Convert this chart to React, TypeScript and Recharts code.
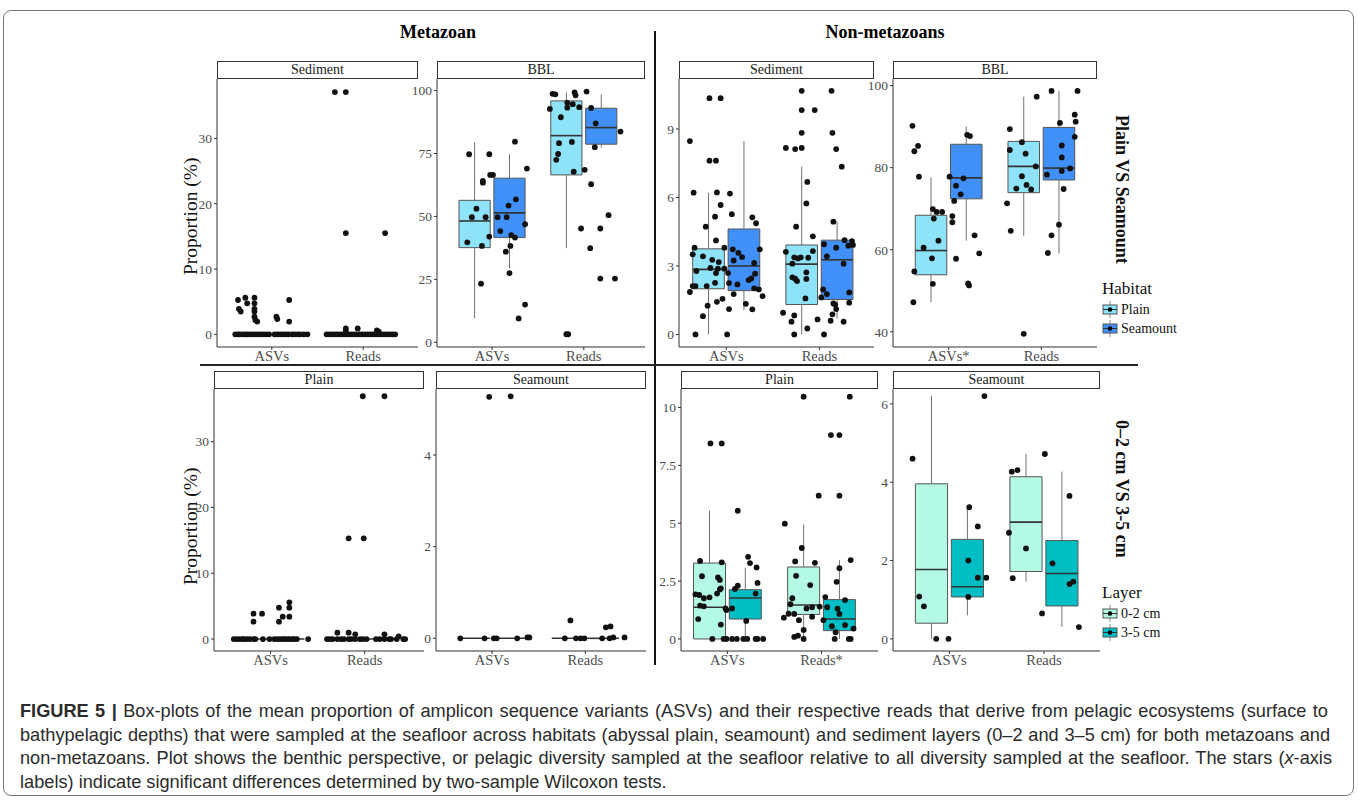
import React from 'react'
import { ComposedChart, XAxis, YAxis, Scatter, ReferenceArea, ReferenceLine } from 'recharts'

const serif = '"Liberation Serif", "Times New Roman", serif'
const sans = '"Liberation Sans", Arial, sans-serif'

const habitatLevels = ['Plain', 'Seamount']
const layerLevels = ['0-2 cm', '3-5 cm']
const habitatColors = ['#8fe3f8', '#4190f7']
const layerColors = ['#b4f8e6', '#00bec4']

// box stats: [lower whisker, q1, median, q3, upper whisker]
// order: ASVs-level1, ASVs-level2, Reads-level1, Reads-level2
const metSedimentBoxes = [[0, 0, 0, 0, 0], [0, 0, 0, 0, 0], [0, 0, 0, 0, 0], [0, 0, 0, 0, 0]]
const metBblBoxes = [[9.5, 37.6, 48.2, 56.4, 79.5], [29.4, 41.6, 51.4, 65.2, 74.7], [37.4, 66.5, 82.1, 95.9, 99.3], [77.4, 78.7, 85.3, 93.0, 98.5]]
const nonSedimentBoxes = [[0, 2.0, 2.85, 3.75, 6.2], [1.07, 1.92, 3.0, 4.62, 8.47], [0, 1.31, 3.08, 3.92, 7.35], [0.7, 1.53, 3.27, 4.13, 4.94]]
const nonBblBoxes = [[47.2, 53.9, 59.8, 68.4, 77.6], [62.2, 72.4, 77.5, 85.7, 90.0], [63.4, 73.9, 80.3, 86.4, 97.3], [59.1, 77.0, 79.9, 89.8, 98.7]]
const metPlainBoxes = [[0, 0, 0, 0, 0], [0, 0, 0, 0, 0], [0, 0, 0, 0, 0], [0, 0, 0, 0, 0]]
const metSeamountBoxes = [[0, 0, 0, 0, 0], [0, 0, 0, 0, 0], [0, 0, 0, 0, 0], [0, 0, 0, 0, 0]]
const nonPlainBoxes = [[0, 0, 1.37, 3.28, 5.54], [0, 0.86, 1.77, 2.13, 3.08], [0, 1.06, 1.47, 3.11, 4.95], [0, 0.36, 0.86, 1.7, 3.41]]
const nonSeamountBoxes = [[0, 0.4, 1.77, 3.96, 6.2], [0.6, 1.07, 1.33, 2.54, 3.37], [1.46, 1.72, 2.98, 4.14, 4.72], [0.31, 0.84, 1.67, 2.51, 4.27]]

// points: [jitter offset from category, value]
const metSedimentAsvs = [
  [-0.40, 0], [-0.37, 0], [-0.35, 0], [-0.32, 0], [-0.29, 0], [-0.27, 0], [-0.24, 0], [-0.21, 0], [-0.18, 0], [-0.15, 0], [-0.12, 0], [-0.09, 0], [-0.06, 0], [-0.03, 0],
  [0.03, 0], [0.06, 0], [0.09, 0], [0.12, 0], [0.15, 0], [0.18, 0], [0.22, 0], [0.25, 0], [0.28, 0], [0.31, 0], [0.35, 0], [0.39, 0],
  [-0.37, 5.26], [-0.36, 3.9], [-0.34, 3.5], [-0.29, 5.6], [-0.27, 4.75], [-0.19, 5.6], [-0.19, 4.75], [-0.19, 3.9], [-0.19, 3.5], [-0.19, 2.7],
  [-0.18, 2.2], [-0.16, 1.95], [0.05, 2.7], [0.06, 2.35], [0.19, 5.26], [0.19, 1.95],
]
const metSedimentReads = [
  [-0.40, 0], [-0.37, 0], [-0.34, 0], [-0.31, 0], [-0.28, 0], [-0.25, 0], [-0.22, 0], [-0.19, 0], [-0.16, 0], [-0.13, 0], [-0.10, 0], [-0.07, 0], [-0.04, 0],
  [-0.01, 0], [0.02, 0], [0.05, 0], [0.08, 0], [0.11, 0], [0.14, 0], [0.17, 0], [0.20, 0], [0.23, 0], [0.26, 0], [0.29, 0], [0.32, 0], [0.35, 0],
  [-0.31, 37.1], [-0.19, 37.1], [-0.19, 15.5], [0.24, 15.5], [-0.19, 0.9], [-0.19, 0.5], [-0.06, 0.9], [0.15, 0.6], [0.17, 0.4],
]
const metBblAsvs = [
  [-0.25, 74.7], [-0.27, 39.7], [-0.22, 49.7], [-0.17, 53.1], [-0.12, 23.3], [-0.11, 38.3], [-0.10, 64.1], [-0.10, 63.4], [-0.07, 49.7], [-0.03, 42.0],
  [-0.03, 74.7], [-0.02, 66.5], [0.01, 66.5], [0.06, 49.7], [0.09, 44.2], [0.15, 36.0], [0.16, 49.7], [0.18, 54.3], [0.19, 27.5], [0.20, 38.3],
  [0.21, 42.6], [0.25, 41.6], [0.26, 56.8], [0.25, 79.7], [0.29, 9.5], [0.36, 15.0], [0.36, 46.9], [0.38, 69.0],
]
const metBblReads = [
  [-0.37, 92.7], [-0.34, 98.7], [-0.31, 98.5], [-0.30, 72.5], [-0.28, 74.8], [-0.27, 79.1], [-0.25, 89.4], [-0.18, 95.2], [-0.18, 93.2], [-0.19, 3.2],
  [-0.17, 3.2], [-0.13, 79.6], [-0.12, 94.6], [-0.11, 67.8], [-0.10, 99.3], [-0.09, 98.1], [-0.05, 93.4], [-0.03, 45.2], [0.01, 68.5], [0.03, 99.6],
  [0.07, 37.4], [0.08, 62.8], [0.08, 93.1], [0.12, 77.5], [0.13, 87.0], [0.18, 45.2], [0.18, 25.3], [0.27, 50.5], [0.34, 25.3], [0.40, 83.7],
]
const nonSedimentAsvs = [
  [-0.39, 8.47], [-0.18, 10.35], [-0.06, 10.35], [-0.35, 6.21], [-0.18, 7.61], [-0.11, 7.61], [-0.10, 6.22], [0.04, 6.17], [-0.06, 5.67], [0.06, 5.27],
  [-0.12, 5.16], [-0.22, 4.72], [-0.11, 4.12], [-0.34, 3.8], [-0.02, 3.8], [-0.36, 3.51], [-0.25, 3.42], [-0.15, 3.27], [0.07, 3.73], [0.13, 3.57],
  [0.17, 3.39], [0.08, 3.24], [-0.08, 3.17], [-0.17, 2.91], [-0.09, 2.88], [-0.02, 2.88], [0.02, 2.69], [-0.32, 2.78], [-0.11, 2.69], [0.30, 3.13],
  [0.31, 2.66], [0.24, 2.38], [0.27, 2.45], [0.03, 2.25], [0.12, 2.19], [-0.36, 2.12], [-0.33, 2.12], [-0.21, 2.12], [-0.12, 2.26], [0.30, 2.02],
  [0.35, 1.97], [0.36, 3.73], [0.28, 5.13], [0.32, 4.87], [-0.39, 1.86], [0.08, 1.77], [0.39, 1.68], [-0.20, 1.26], [-0.10, 1.43], [-0.04, 1.56],
  [0.21, 1.34], [0.03, 1.11], [0.28, 1.10], [-0.25, 0.8], [-0.33, 0], [0.01, 0],
]
const nonSedimentReads = [
  [-0.19, 10.67], [0.13, 10.67], [-0.19, 9.83], [-0.05, 9.83], [-0.19, 8.83], [0.14, 8.83], [-0.36, 8.17], [-0.26, 8.12], [-0.19, 8.17], [0.18, 8.12],
  [0.24, 7.35], [-0.13, 6.68], [-0.14, 5.74], [0.15, 4.94], [-0.25, 4.72], [-0.07, 4.30], [0.27, 4.13], [0.35, 4.09], [0.36, 3.92], [0.31, 3.89],
  [0.05, 3.95], [0.18, 3.80], [-0.36, 3.62], [-0.07, 3.65], [0.08, 3.42], [-0.27, 3.38], [-0.23, 3.33], [-0.20, 3.38], [-0.12, 3.36], [-0.29, 3.10],
  [0.26, 3.10], [-0.14, 2.72], [-0.14, 2.43], [-0.29, 2.50], [-0.26, 2.44], [-0.24, 2.34], [-0.15, 1.58], [0.02, 1.62], [0.04, 1.97], [0.08, 1.77],
  [0.32, 1.84], [0.32, 1.39], [0.15, 1.36], [0.17, 1.31], [0.18, 1.11], [-0.39, 0.95], [-0.27, 0.83], [-0.30, 0.56], [0.14, 0.88], [0.12, 0.60],
  [-0.02, 0.66], [-0.13, 0.26], [0.26, 0.56], [-0.27, 0], [0.05, 0],
]
const nonBblAsvs = [
  [-0.39, 90.2], [-0.37, 84.0], [-0.33, 85.3], [-0.32, 77.8], [-0.37, 54.7], [-0.38, 47.2], [-0.17, 51.7], [-0.27, 60.5], [-0.18, 57.9], [-0.11, 62.2],
  [-0.16, 67.6], [-0.17, 69.9], [-0.13, 69.2], [-0.07, 69.2], [0.01, 77.8], [0.04, 68.2], [0.04, 66.7], [0.06, 71.9], [0.08, 75.6], [0.08, 57.8],
  [0.13, 73.5], [0.16, 77.4], [0.20, 88.0], [0.23, 87.7], [0.21, 51.8], [0.22, 51.3], [0.28, 63.5], [0.33, 59.1],
]
const nonBblReads = [
  [-0.34, 89.4], [-0.34, 84.3], [-0.37, 71.3], [-0.33, 64.6], [-0.21, 86.2], [-0.17, 83.4], [-0.27, 74.9], [-0.21, 77.9], [-0.16, 75.8], [-0.11, 74.7],
  [-0.06, 80.3], [-0.19, 39.5], [-0.05, 97.3], [0.11, 98.7], [0.39, 98.7], [0.36, 92.9], [0.37, 91.2], [0.20, 90.9], [0.36, 87.5], [0.22, 85.4],
  [0.22, 82.5], [0.06, 78.3], [0.22, 79.2], [0.31, 79.8], [0.24, 74.8], [0.19, 66.1], [0.11, 63.5], [0.07, 59.2],
]
const metPlainAsvs = [
  [-0.39, 0], [-0.36, 0], [-0.33, 0], [-0.30, 0], [-0.28, 0], [-0.25, 0], [-0.22, 0], [-0.18, 0], [-0.16, 0], [-0.08, 0], [-0.01, 0], [0.04, 0], [0.07, 0],
  [0.10, 0], [0.13, 0], [0.15, 0], [0.18, 0], [0.20, 0], [0.23, 0], [0.25, 0], [0.28, 0], [0.40, 0],
  [-0.18, 3.85], [-0.18, 2.64], [-0.09, 3.85], [0.09, 4.76], [0.09, 2.64], [0.13, 3.40], [0.20, 5.58], [0.20, 4.76], [0.20, 3.40],
]
const metPlainReads = [
  [-0.40, 0], [-0.37, 0], [-0.34, 0], [-0.29, 0], [-0.25, 0], [-0.22, 0], [-0.17, 0], [-0.14, 0], [-0.10, 0], [-0.05, 0], [-0.02, 0], [0.02, 0],
  [0.12, 0], [0.16, 0], [0.21, 0], [0.26, 0], [0.28, 0], [0.34, 0], [0.41, 0], [0.43, 0],
  [-0.02, 36.9], [0.21, 36.9], [-0.17, 15.3], [-0.01, 15.3], [-0.29, 0.96], [-0.17, 0.96], [-0.10, 0.71], [0.21, 0.71], [0.36, 0.41],
]
const metSeamountAsvs = [
  [-0.34, 0], [-0.08, 0], [0.02, 0.0], [0.05, 0], [0.27, 0], [0.38, 0.02], [0.40, 0.02], [-0.03, 5.27], [0.20, 5.28],
]
const metSeamountReads = [
  [-0.22, 0], [-0.10, 0], [-0.05, 0], [-0.01, 0], [-0.16, 0.39], [0.18, 0], [0.26, 0], [0.30, 0.02], [0.42, 0.02], [0.22, 0.24], [0.27, 0.26],
]
const nonPlainAsvs = [
  [-0.18, 8.45], [-0.06, 8.45], [0.11, 5.54], [-0.29, 3.37], [-0.06, 3.31], [-0.27, 2.71], [-0.10, 2.66], [-0.08, 2.55], [-0.07, 2.19], [-0.08, 2.14],
  [-0.11, 1.96], [-0.34, 1.93], [-0.30, 1.90], [-0.25, 1.76], [-0.19, 1.80], [-0.29, 1.44], [-0.25, 1.41], [-0.02, 1.32], [-0.01, 1.25], [-0.31, 0.86],
  [-0.07, 0.62], [-0.16, 0], [-0.04, 0], [-0.01, 0], [0.22, 3.55], [0.24, 3.28], [0.31, 3.09], [0.32, 2.42], [0.30, 1.96], [0.11, 2.30],
  [0.08, 2.16], [0.05, 1.32], [0.20, 0.78], [0.05, 0], [0.10, 0], [0.17, 0], [0.21, 0], [0.30, 0], [0.32, 0], [0.38, 0],
]
const nonPlainReads = [
  [-0.19, 10.47], [0.30, 10.47], [0.10, 8.81], [0.19, 8.81], [-0.03, 6.19], [0.19, 6.19], [-0.39, 4.98], [-0.21, 3.93], [-0.28, 3.35], [-0.07, 3.29],
  [-0.27, 2.73], [-0.12, 2.33], [-0.31, 1.76], [-0.33, 1.50], [-0.16, 1.32], [-0.10, 1.37], [-0.02, 1.40], [-0.10, 0.96], [-0.35, 1.09], [-0.29, 1.08],
  [-0.40, 0.92], [-0.24, 0.81], [-0.19, 0.39], [-0.25, 0.14], [-0.29, 0.09], [-0.19, 0], [0.31, 3.41], [0.19, 3.06], [0.16, 2.47], [0.04, 1.81],
  [0.25, 1.68], [0.06, 1.37], [0.17, 1.31], [0.19, 1.08], [0.02, 0.81], [0.11, 0.55], [0.25, 0.60], [0.34, 0.45], [0.15, 0.29], [0.14, 0],
  [0.29, 0], [0.31, 0],
]
const nonSeamountAsvs = [
  [-0.39, 4.6], [-0.32, 1.08], [-0.27, 0.83], [-0.14, 0], [-0.01, 0], [0.37, 6.2], [0.21, 3.36], [0.30, 2.87], [0.20, 2.0], [0.20, 1.07], [0.30, 1.56], [0.39, 1.56],
]
const nonSeamountReads = [
  [-0.34, 4.27], [-0.28, 4.31], [-0.37, 2.71], [-0.33, 1.55], [-0.19, 2.31], [0.01, 4.72], [-0.02, 0.65], [0.09, 1.93], [0.27, 3.65], [0.27, 1.40], [0.31, 1.46], [0.37, 0.30],
]

const AXIS_W = 40
const AXIS_H = 26
const DODGE = 0.19
const HALF = 0.17

type PanelCfg = {
  strip: string
  rect: number[]
  xDomain: number[]
  yDomain: number[]
  yTicks: number[]
  xLabels: string[]
  boxes: number[][]
  asvs: number[][]
  reads: number[][]
  colors: string[]
}

const panels: PanelCfg[] = [
  { strip: 'Sediment', rect: [217, 79, 418, 347], xDomain: [0.4, 2.6], yDomain: [-1.94, 39.1], yTicks: [0, 10, 20, 30], xLabels: ['ASVs', 'Reads'], boxes: metSedimentBoxes, asvs: metSedimentAsvs, reads: metSedimentReads, colors: habitatColors },
  { strip: 'BBL', rect: [437, 79, 645, 347], xDomain: [0.4, 2.667], yDomain: [-1.87, 104.6], yTicks: [0, 25, 50, 75, 100], xLabels: ['ASVs', 'Reads'], boxes: metBblBoxes, asvs: metBblAsvs, reads: metBblReads, colors: habitatColors },
  { strip: 'Sediment', rect: [679, 79, 874, 347], xDomain: [0.493, 2.586], yDomain: [-0.55, 11.19], yTicks: [0, 3, 6, 9], xLabels: ['ASVs', 'Reads'], boxes: nonSedimentBoxes, asvs: nonSedimentAsvs, reads: nonSedimentReads, colors: habitatColors },
  { strip: 'BBL', rect: [893, 79, 1097, 347], xDomain: [0.4, 2.6], yDomain: [36.3, 101.6], yTicks: [40, 60, 80, 100], xLabels: ['ASVs*', 'Reads'], boxes: nonBblBoxes, asvs: nonBblAsvs, reads: nonBblReads, colors: habitatColors },
  { strip: 'Plain', rect: [214, 389, 424, 651], xDomain: [0.4, 2.63], yDomain: [-1.82, 38.0], yTicks: [0, 10, 20, 30], xLabels: ['ASVs', 'Reads'], boxes: metPlainBoxes, asvs: metPlainAsvs, reads: metPlainReads, colors: layerColors },
  { strip: 'Seamount', rect: [436, 389, 646, 651], xDomain: [0.4, 2.65], yDomain: [-0.277, 5.44], yTicks: [0, 2, 4], xLabels: ['ASVs', 'Reads'], boxes: metSeamountBoxes, asvs: metSeamountAsvs, reads: metSeamountReads, colors: layerColors },
  { strip: 'Plain', rect: [681, 389, 878, 651], xDomain: [0.507, 2.6], yDomain: [-0.52, 10.8], yTicks: [0, 2.5, 5, 7.5, 10], xLabels: ['ASVs', 'Reads*'], boxes: nonPlainBoxes, asvs: nonPlainAsvs, reads: nonPlainReads, colors: layerColors },
  { strip: 'Seamount', rect: [893, 389, 1100, 651], xDomain: [0.403, 2.593], yDomain: [-0.31, 6.38], yTicks: [0, 2, 4, 6], xLabels: ['ASVs', 'Reads'], boxes: nonSeamountBoxes, asvs: nonSeamountAsvs, reads: nonSeamountReads, colors: layerColors },
]

const dot = (p: any) => <circle cx={p.cx} cy={p.cy} r={2.9} fill="#111" />

function Panel({ cfg }: { cfg: PanelCfg }) {
  const [left, top, right, bottom] = cfg.rect
  const w = right - left
  const h = bottom - top
  const pts = [
    ...cfg.asvs.map(([dx, y]) => ({ x: 1 + dx, y })),
    ...cfg.reads.map(([dx, y]) => ({ x: 2 + dx, y })),
  ]
  const marks: React.ReactElement[] = []
  cfg.boxes.forEach((b, i) => {
    const [lo, q1, med, q3, hi] = b
    const pos = (i < 2 ? 1 : 2) + (i % 2 === 0 ? -DODGE : DODGE)
    marks.push(<ReferenceLine key={`wl${i}`} segment={[{ x: pos, y: lo }, { x: pos, y: q1 }]} stroke="#707070" strokeWidth={1} ifOverflow="visible" />)
    marks.push(<ReferenceLine key={`wh${i}`} segment={[{ x: pos, y: q3 }, { x: pos, y: hi }]} stroke="#707070" strokeWidth={1} ifOverflow="visible" />)
    if (q3 > q1) {
      marks.push(<ReferenceArea key={`b${i}`} x1={pos - HALF} x2={pos + HALF} y1={q1} y2={q3} fill={cfg.colors[i % 2]} fillOpacity={1} stroke="#555" strokeWidth={1} ifOverflow="visible" />)
    }
    marks.push(<ReferenceLine key={`m${i}`} segment={[{ x: pos - HALF, y: med }, { x: pos + HALF, y: med }]} stroke="#333" strokeWidth={1.6} ifOverflow="visible" />)
  })
  return (
    <>
      <div style={{ position: 'absolute', left, top: top - 18, width: w, height: 18, border: '1px solid #333', boxSizing: 'border-box', textAlign: 'center', fontFamily: serif, fontSize: 14, lineHeight: '16px', color: '#1a1a1a' }}>{cfg.strip}</div>
      <div style={{ position: 'absolute', left: left - AXIS_W, top }}>
        <ComposedChart width={w + AXIS_W} height={h + AXIS_H} margin={{ top: 0, right: 0, bottom: 0, left: 0 }}>
          <XAxis type="number" dataKey="x" domain={cfg.xDomain} allowDataOverflow ticks={[1, 2]} interval={0}
            tickFormatter={(v: number) => cfg.xLabels[Math.round(v) - 1]} height={AXIS_H} tickSize={3} tickMargin={1}
            tick={{ fill: '#4d4d4d', fontSize: 14.5, fontFamily: serif }} axisLine={{ stroke: '#333' }} tickLine={{ stroke: '#333' }} />
          <YAxis type="number" dataKey="y" domain={cfg.yDomain} allowDataOverflow ticks={cfg.yTicks} interval={0}
            width={AXIS_W} tickSize={3} tickMargin={2}
            tick={{ fill: '#4d4d4d', fontSize: 13.5, fontFamily: serif }} axisLine={{ stroke: '#333' }} tickLine={{ stroke: '#333' }} />
          {marks}
          <Scatter data={pts} isAnimationActive={false} shape={dot} />
        </ComposedChart>
      </div>
    </>
  )
}

function LegendBlock({ title, top, labels, colors }: { title: string; top: number; labels: string[]; colors: string[] }) {
  return (
    <div style={{ position: 'absolute', left: 1102, top }}>
      <div style={{ fontFamily: serif, fontSize: 17, lineHeight: '22px', color: '#111' }}>{title}</div>
      {labels.map((l, i) => (
        <div key={l} style={{ display: 'flex', alignItems: 'center', height: 19 }}>
          <svg width={16} height={19}>
            <line x1={8} x2={8} y1={1} y2={18} stroke="#888" />
            <rect x={1} y={5} width={14} height={9} fill={colors[i]} stroke="#555" />
            <line x1={1} x2={15} y1={9.5} y2={9.5} stroke="#333" />
            <circle cx={8} cy={9.5} r={2.3} fill="#000" />
          </svg>
          <span style={{ fontFamily: serif, fontSize: 14, marginLeft: 3, color: '#111' }}>{l}</span>
        </div>
      ))}
    </div>
  )
}

const vText = (text: string, left: number, top: number, height: number, size: number, bold: boolean, flip: boolean) => (
  <div style={{ position: 'absolute', left, top, height, width: size + 4, writingMode: 'vertical-rl', textAlign: 'center', fontFamily: serif, fontSize: size, fontWeight: bold ? 'bold' : 'normal', transform: flip ? 'rotate(180deg)' : undefined, lineHeight: `${size + 4}px`, color: '#111', whiteSpace: 'nowrap' }}>{text}</div>
)

const capLine = (width: number): React.CSSProperties => ({ width, textAlign: 'justify', textAlignLast: 'justify' })

export default function App() {
  return (
    <div style={{ position: 'absolute', left: 0, top: 0, width: 1358, height: 802, background: '#fff', overflow: 'hidden' }}>
      <div style={{ position: 'absolute', left: 3, top: 10, width: 1351, height: 786, border: '1.5px solid #777', borderRadius: 8, boxSizing: 'border-box' }} />
      <div style={{ position: 'absolute', left: 338, width: 200, top: 22, textAlign: 'center', fontFamily: serif, fontWeight: 'bold', fontSize: 18 }}>Metazoan</div>
      <div style={{ position: 'absolute', left: 785, width: 200, top: 22, textAlign: 'center', fontFamily: serif, fontWeight: 'bold', fontSize: 18 }}>Non-metazoans</div>
      <div style={{ position: 'absolute', left: 654, top: 31, width: 2, height: 634, background: '#111' }} />
      <div style={{ position: 'absolute', left: 200, top: 364, width: 938, height: 2, background: '#222' }} />
      {panels.map((p, i) => <Panel key={i} cfg={p} />)}
      {vText('Proportion (%)', 179, 116, 200, 19.5, false, true)}
      {vText('Proportion (%)', 179, 426, 200, 19.5, false, true)}
      {vText('Plain VS Seamount', 1111, 89, 200, 18, true, false)}
      {vText('0–2 cm VS 3-5 cm', 1111, 389, 200, 18, true, false)}
      <LegendBlock title="Habitat" top={278} labels={habitatLevels} colors={habitatColors} />
      <LegendBlock title="Layer" top={582} labels={layerLevels} colors={layerColors} />
      <div style={{ position: 'absolute', left: 20, top: 700, fontFamily: sans, fontSize: 18.2, lineHeight: '23.5px', color: '#2b2b2b', whiteSpace: 'nowrap' }}>
        <div style={capLine(1308)}><b>FIGURE 5 |</b> Box-plots of the mean proportion of amplicon sequence variants (ASVs) and their respective reads that derive from pelagic ecosystems (surface to</div>
        <div style={capLine(1310)}>bathypelagic depths) that were sampled at the seafloor across habitats (abyssal plain, seamount) and sediment layers (0–2 and 3–5 cm) for both metazoans and</div>
        <div style={capLine(1312)}>non-metazoans. Plot shows the benthic perspective, or pelagic diversity sampled at the seafloor relative to all diversity sampled at the seafloor. The stars (<i>x</i>-axis</div>
        <div>labels) indicate significant differences determined by two-sample Wilcoxon tests.</div>
      </div>
    </div>
  )
}
